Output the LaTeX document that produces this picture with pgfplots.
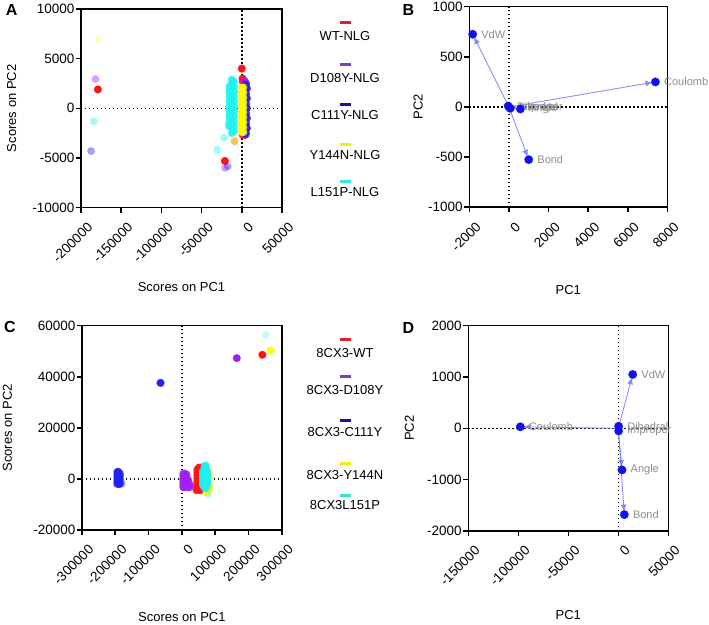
\documentclass[border=0pt]{standalone}
\usepackage{fontspec}
\setmainfont{Liberation Sans}
\usepackage{pgfplots}
\pgfplotsset{compat=1.18}
\usetikzlibrary{arrows.meta}

% scatter colours (scores) and their legend swatches
\definecolor{wt}{HTML}{FF1212}
\definecolor{dy}{HTML}{A020F0}
\definecolor{cy}{HTML}{2020F8}
\definecolor{yn}{HTML}{FFFF00}
\definecolor{lp}{HTML}{20F0F0}
\definecolor{wtL}{HTML}{E02025}
\definecolor{dyL}{HTML}{8040B0}
\definecolor{cyL}{HTML}{1515A0}
\definecolor{ynL}{HTML}{F0EC20}
\definecolor{lpL}{HTML}{35E5D5}
% loading plots
\definecolor{ldot}{HTML}{1010F2}
\definecolor{larrow}{HTML}{7C7CF2}
\definecolor{lbl}{HTML}{8C8C8C}

\newcommand\fs[1]{\fontsize{#1}{#1}\selectfont}

\tikzset{lname/.style={anchor=west, text=lbl, font=\fs{11bp}, inner sep=0pt, xshift=8.5bp}}

\pgfplotsset{
  panel/.style={
    scale only axis,
    clip=false,
    axis line style={line width=1.6bp},
    major tick style={line width=1.6bp, black},
    tick align=outside,
    major tick length=5bp,
    xtick pos=left, ytick pos=left,
    scaled ticks=false,
    /pgf/number format/fixed,
    /pgf/number format/1000 sep={},
    /pgf/number format/assume math mode=true,
    tick label style={font=\fs{13.5bp}},
    label style={font=\fs{13bp}},
    xticklabel style={rotate=45, anchor=east, inner sep=0pt, xshift=-2bp, yshift=-15bp},
    yticklabel style={inner sep=1.5bp},
  },
  zero/.style={black, line width=1.4bp, dash pattern=on 1.4bp off 2.6bp},
  % dense frame clouds, isolated frames, and the palest isolated frames
  cloud/.style={only marks, mark=*, mark size=3.9bp, mark options={fill=#1, draw opacity=0, fill opacity=0.85}},
  sparse/.style={only marks, mark=*, mark size=3.9bp, mark options={fill=#1, draw opacity=0, fill opacity=0.42}},
  faint/.style={only marks, mark=*, mark size=3.9bp, mark options={fill=#1, draw opacity=0, fill opacity=0.25}},
  solid dot/.style={only marks, mark=*, mark size=3.9bp, mark options={fill=#1, draw=#1, line width=0.1bp}},
  vec/.style={larrow, opacity=0.85, line width=0.9bp, -{Latex[length=7bp,width=6bp]}, shorten >=3bp},
  tinyvec/.style={larrow, opacity=0.85, line width=0.9bp, -{Latex[length=7bp,width=6bp]}},
  load/.style={only marks, mark=*, mark size=4.3bp, mark options={fill=ldot, draw=ldot, line width=0.1bp}},
}

\begin{document}
\begin{tikzpicture}[x=1bp, y=1bp]
\useasboundingbox (0,0) rectangle (709,625);

% ---------------- A: scores, NLG systems ----------------
\begin{axis}[panel,
  at={(81bp,417.3bp)}, anchor=south west,
  width=201bp, height=198.7bp,
  xmin=-200000, xmax=50000, ymin=-10000, ymax=10000,
  xtick={-200000,-150000,-100000,-50000,0,50000},
  ytick={-10000,-5000,0,5000,10000},
  xlabel={Scores on PC1}, ylabel={Scores on PC2},
  xlabel style={at={(axis description cs:0.5,-0.40)}, anchor=center},
  ylabel style={at={(axis description cs:-0.345,0.5)}, anchor=center},
]
\addplot[zero] coordinates {(0,-10000) (0,10000)};
\addplot[zero] coordinates {(-200000,0) (50000,0)};
% WT-NLG
\addplot[cloud=wt] coordinates {
  (1000,-2700) (1000,-2100) (1000,-1500) (1000,-900) (1000,-300) (1000,300) (1000,900) (1000,1500) (1000,2100) (1000,2700)
  (4000,-2700) (4000,-2100) (4000,-1500) (4000,-900) (4000,-300) (4000,300) (4000,900) (4000,1500) (4000,2100) (4000,2700)
  (6000,-2000) (6000,-1000) (6000,0) (6000,1000) (6000,2000)};
\addplot[sparse=wt] coordinates {(-9000,-3300)};
\addplot[solid dot=wt] coordinates {(-179000,1900) (-21000,-5300) (0,4000) (1000,3000)};
% D108Y-NLG
\addplot[cloud=dy] coordinates {
  (3000,-2500) (3000,-1700) (3000,-900) (3000,-100) (3000,700) (3000,1500) (3000,2300) (3000,2800)
  (5500,-2500) (5500,-1500) (5500,-500) (5500,500) (5500,1500) (5500,2500)};
\addplot[sparse=dy] coordinates {(-182000,2950) (-21000,-6000)};
% C111Y-NLG
\addplot[cloud=cy] coordinates {
  (5000,-2600) (5000,-1600) (5000,-600) (5000,400) (5000,1400) (5000,2400)
  (6500,-2000) (6500,-1000) (6500,0) (6500,1000) (6500,2000)};
\addplot[sparse=cy] coordinates {(-187500,-4300) (-17500,-5850)};
% Y144N-NLG
\addplot[cloud=yn] coordinates {
  (0,-2400) (0,-1900) (0,-1400) (0,-900) (0,-400) (0,100) (0,600) (0,1100) (0,1600) (0,2100)
  (2000,-2400) (2000,-1900) (2000,-1400) (2000,-900) (2000,-400) (2000,100) (2000,600) (2000,1100) (2000,1600) (2000,2100)};
\addplot[sparse=yn] coordinates {(-8500,-3200)};
\addplot[faint=yn] coordinates {(-178500,6950)};
% L151P-NLG
\addplot[cloud=lp] coordinates {
  (-15500,-1800) (-15500,-1300) (-15500,-800) (-15500,-300) (-15500,200) (-15500,700) (-15500,1200) (-15500,1700) (-15500,2200)
  (-12500,-2500) (-12500,-2000) (-12500,-1500) (-12500,-1000) (-12500,-500) (-12500,0) (-12500,500) (-12500,1000) (-12500,1500) (-12500,2000) (-12500,2500) (-12500,2900)
  (-9500,-2300) (-9500,-1800) (-9500,-1300) (-9500,-800) (-9500,-300) (-9500,200) (-9500,700) (-9500,1200) (-9500,1700) (-9500,2200) (-9500,2700)};
\addplot[sparse=lp] coordinates {(-17000,-1700) (-22100,-2950) (-30400,-4170) (-184000,-1300)};
\end{axis}

% ---------------- B: loadings, NLG systems ----------------
\begin{axis}[panel,
  at={(469.3bp,417.7bp)}, anchor=south west,
  width=198bp, height=200.6bp,
  xmin=-2000, xmax=8000, ymin=-1000, ymax=1000,
  xtick={-2000,0,2000,4000,6000,8000},
  ytick={-1000,-500,0,500,1000},
  xlabel={PC1}, ylabel={PC2},
  xlabel style={at={(axis description cs:0.5,-0.412)}, anchor=center},
  ylabel style={at={(axis description cs:-0.258,0.5)}, anchor=center},
]
\addplot[zero] coordinates {(0,-1000) (0,1000)};
\addplot[zero] coordinates {(-2000,0) (8000,0)};
\addplot[vec] coordinates {(0,0) (-1830,725)};
\addplot[vec] coordinates {(0,0) (7400,250)};
\addplot[vec] coordinates {(0,0) (1000,-525)};
\addplot[vec] coordinates {(0,0) (580,-20)};
\addplot[tinyvec] coordinates {(0,0) (-30,8)};
\addplot[tinyvec] coordinates {(0,0) (60,-12)};
\addplot[load] coordinates {(-1830,725) (7400,250) (1000,-525) (580,-20) (-30,8) (60,-12)};
\node[lname] at (axis cs:-1830,725) {VdW};
\node[lname] at (axis cs:7400,250) {Coulomb};
\node[lname] at (axis cs:1000,-525) {Bond};
\node[lname] at (axis cs:580,-20) {Angle};
\node[lname] at (axis cs:-30,8) {Dihedral};
\node[lname] at (axis cs:60,-12) {Improper};
\end{axis}

% ---------------- C: scores, 8CX3 systems ----------------
\begin{axis}[panel,
  at={(82bp,95bp)}, anchor=south west,
  width=199.7bp, height=204.3bp,
  xmin=-300000, xmax=300000, ymin=-20000, ymax=60000,
  xtick={-300000,-200000,-100000,0,100000,200000,300000},
  ytick={-20000,0,20000,40000,60000},
  xlabel={Scores on PC1}, ylabel={Scores on PC2},
  xlabel style={at={(axis description cs:0.5,-0.425)}, anchor=center},
  ylabel style={at={(axis description cs:-0.374,0.5)}, anchor=center},
]
\addplot[zero] coordinates {(0,-20000) (0,60000)};
\addplot[zero] coordinates {(-300000,0) (300000,0)};
% 8CX3-WT
\addplot[cloud=wt] coordinates {
  (46000,-4000) (46000,-2900) (46000,-1800) (46000,-700) (46000,400) (46000,1500) (46000,2600) (46000,3700)
  (51000,-4300) (51000,-3200) (51000,-2100) (51000,-1000) (51000,100) (51000,1200) (51000,2300) (51000,3400) (51000,4500)
  (56000,-4500) (56000,-3000) (56000,-1500) (56000,0) (56000,1500) (56000,3000) (56000,4500)
  (44000,-4500)};
\addplot[solid dot=wt] coordinates {(242000,48600)};
% 8CX3-D108Y
\addplot[cloud=dy] coordinates {
  (4000,-3300) (4000,-2400) (4000,-1500) (4000,-600) (4000,300) (4000,1200) (4000,2100)
  (9000,-3300) (9000,-2400) (9000,-1500) (9000,-600) (9000,300) (9000,1200) (9000,2100)
  (14000,-3000) (14000,-2000) (14000,-1000) (14000,0) (14000,1000) (14000,1800)
  (19000,-3400) (19000,-2400) (19000,-1400) (19000,-400)
  (25000,-3200) (25000,-2200)};
\addplot[solid dot=dy] coordinates {(165000,47300)};
% 8CX3-C111Y
\addplot[cloud=cy] coordinates {
  (-194000,-2000) (-194000,-1200) (-194000,-400) (-194000,400) (-194000,1200) (-194000,2000) (-194000,2800)
  (-190000,-2000) (-190000,-1200) (-190000,-400) (-190000,400) (-190000,1200) (-190000,2000) (-190000,2800)
  (-186000,-2000) (-186000,-1000) (-186000,0) (-186000,1000) (-186000,2000)};
\addplot[sparse=cy] coordinates {(-181000,-1800)};
\addplot[solid dot=cy] coordinates {(-64000,37600)};
% 8CX3-Y144N
\addplot[cloud=yn] coordinates {
  (75000,-5400) (75000,-4300) (75000,-3200) (75000,-2100) (75000,-1000) (75000,100) (75000,1200) (75000,2300) (75000,3400)
  (81000,-4500) (81000,-3300) (81000,-2100) (81000,-900) (81000,300) (81000,1500) (81000,2700)};
\addplot[solid dot=yn] coordinates {(267000,50300)};
% 8CX3L151P
\addplot[cloud=lp] coordinates {
  (63000,-2500) (63000,-1400) (63000,-300) (63000,800) (63000,1900) (63000,3000)
  (68000,-3500) (68000,-2400) (68000,-1300) (68000,-200) (68000,900) (68000,2000) (68000,3100) (68000,4200) (68000,5200)
  (73000,-3600) (73000,-2500) (73000,-1400) (73000,-300) (73000,800) (73000,1900) (73000,3000) (73000,4100) (73000,5200)
  (77000,-2200) (77000,-1000) (77000,200) (77000,1400) (77000,2600)};
\addplot[faint=lp] coordinates {(80000,-6200) (252000,56400)};
\end{axis}

% ---------------- D: loadings, 8CX3 systems ----------------
\begin{axis}[panel,
  at={(468.3bp,94bp)}, anchor=south west,
  width=200bp, height=205.3bp,
  xmin=-150000, xmax=50000, ymin=-2000, ymax=2000,
  xtick={-150000,-100000,-50000,0,50000},
  ytick={-2000,-1000,0,1000,2000},
  xlabel={PC1}, ylabel={PC2},
  xlabel style={at={(axis description cs:0.5,-0.409)}, anchor=center},
  ylabel style={at={(axis description cs:-0.295,0.5)}, anchor=center},
]
\addplot[zero] coordinates {(0,-2000) (0,2000)};
\addplot[zero] coordinates {(-150000,0) (50000,0)};
\addplot[vec] coordinates {(0,0) (14400,1050)};
\addplot[vec] coordinates {(0,0) (-98000,30)};
\addplot[vec] coordinates {(0,0) (3700,-810)};
\addplot[vec] coordinates {(0,0) (6000,-1680)};
\addplot[tinyvec] coordinates {(0,0) (300,40)};
\addplot[tinyvec] coordinates {(0,0) (300,-50)};
\addplot[load] coordinates {(14400,1050) (-98000,30) (3700,-810) (6000,-1680) (300,40) (300,-50)};
\node[lname] at (axis cs:14400,1050) {VdW};
\node[lname] at (axis cs:-98000,30) {Coulomb};
\node[lname] at (axis cs:3700,-810) {Angle};
\node[lname] at (axis cs:6000,-1680) {Bond};
\node[lname] at (axis cs:300,40) {Dihedral};
\node[lname] at (axis cs:300,-50) {Improper};
\end{axis}

% ---------------- legends ----------------
\begin{scope}[every node/.style={font=\fs{13bp}, inner sep=0pt}]
\draw[wtL, line width=3bp] (340,602.7) -- (351,602.7);
\node at (345,589) {WT-NLG};
\draw[dyL, line width=3bp] (340,560) -- (351,560);
\node at (345,546.7) {D108Y-NLG};
\draw[cyL, line width=3bp] (340,520.7) -- (351,520.7);
\node at (345,510) {C111Y-NLG};
\draw[ynL, line width=3bp] (340,480) -- (351,480);
\node at (345,470) {Y144N-NLG};
\draw[lpL, line width=3bp] (340,443.3) -- (351,443.3);
\node at (345,433.3) {L151P-NLG};

\draw[wtL, line width=3bp] (340,285.7) -- (351,285.7);
\node at (345,272.3) {8CX3-WT};
\draw[dyL, line width=3bp] (340,248.3) -- (351,248.3);
\node at (345,235) {8CX3-D108Y};
\draw[cyL, line width=3bp] (340,204.3) -- (351,204.3);
\node at (345,193.3) {8CX3-C111Y};
\draw[ynL, line width=3bp] (340,161) -- (351,161);
\node at (345,150) {8CX3-Y144N};
\draw[lpL, line width=3bp] (340,129.7) -- (351,129.7);
\node at (345,120) {8CX3L151P};
\end{scope}

% panel letters
\begin{scope}[every node/.style={font=\bfseries\fs{16bp}, inner sep=0pt}]
\node at (11.7,615) {A};
\node at (408.3,615) {B};
\node at (10,298.3) {C};
\node at (408.3,296.7) {D};
\end{scope}
\end{tikzpicture}
\end{document}
